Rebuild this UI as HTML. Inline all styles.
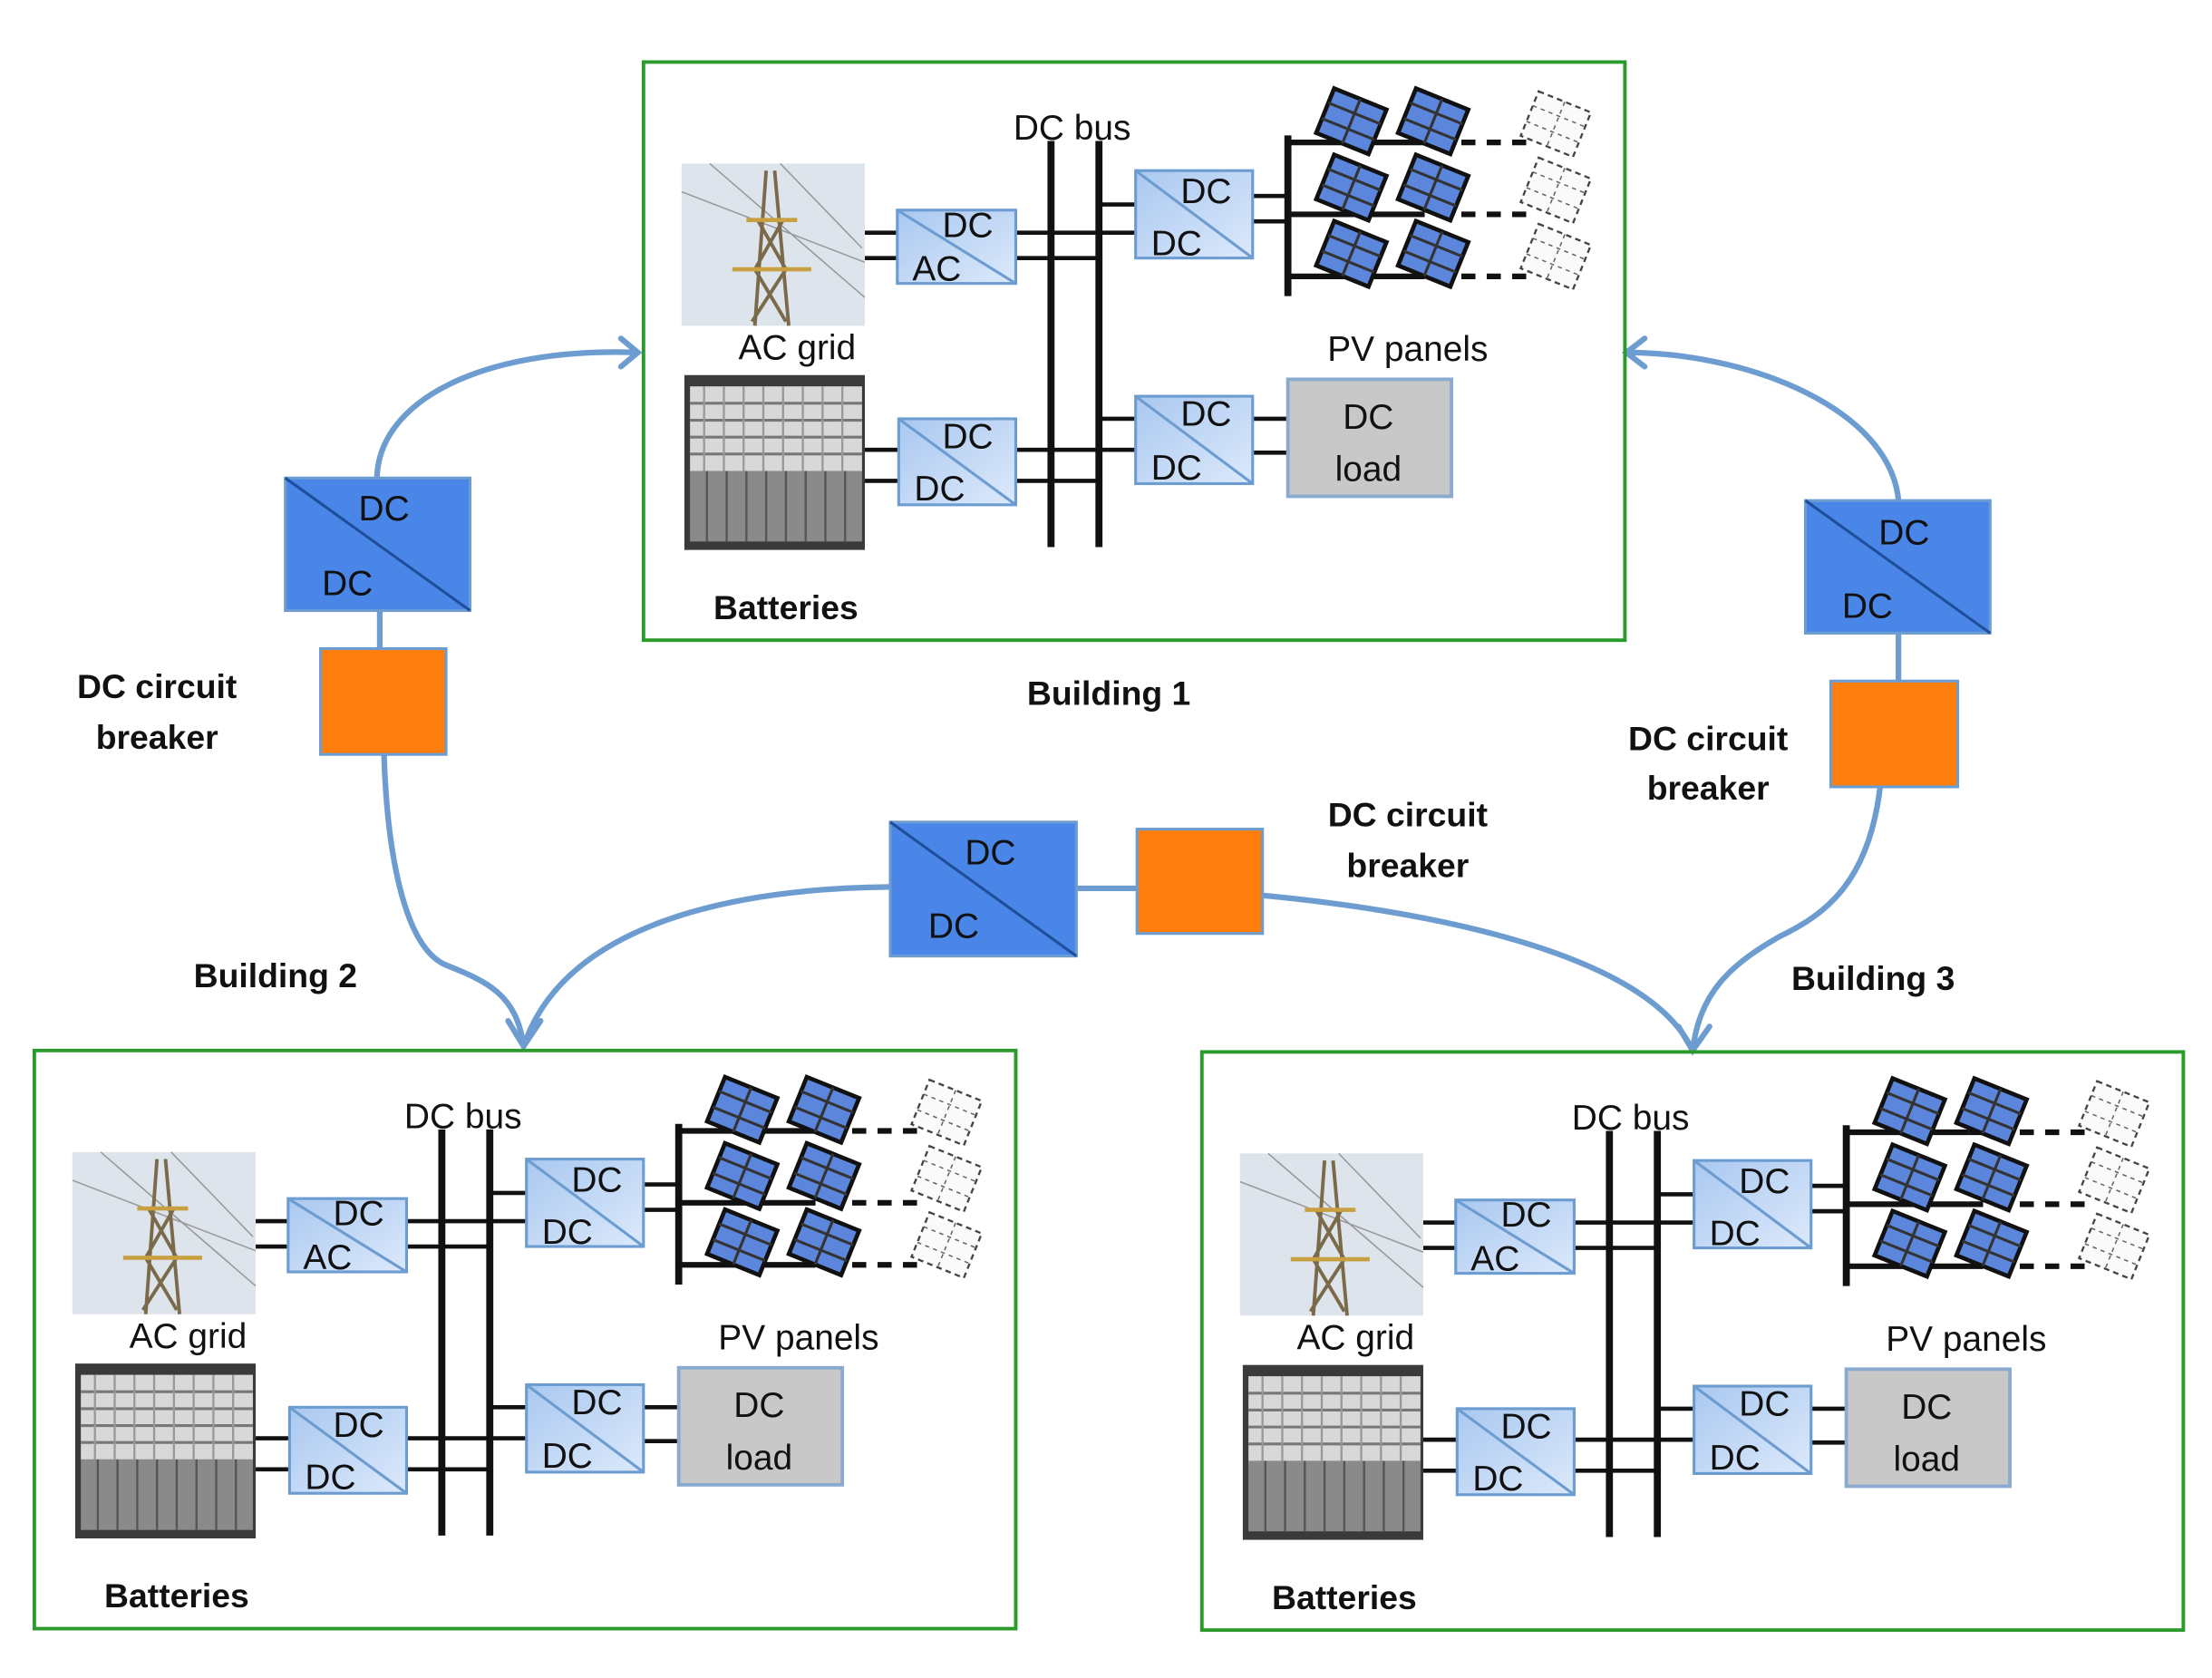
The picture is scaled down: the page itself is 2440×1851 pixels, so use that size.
<!DOCTYPE html>
<html><head><meta charset="utf-8"><style>
html,body{margin:0;padding:0;background:#fff;}
svg{display:block;}
text{font-family:"Liberation Sans",sans-serif;}
</style></head><body>
<svg width="2440" height="1851" viewBox="0 0 1568 1190" xmlns="http://www.w3.org/2000/svg">
<defs>
<linearGradient id="cv" x1="0" y1="0" x2="1" y2="1"><stop offset="0" stop-color="#a9c8f0"/><stop offset="1" stop-color="#dce9fb"/></linearGradient>
<g id="pv"><g transform="rotate(22)"><rect x="-20" y="-17" width="40" height="34" fill="#5b86dc" stroke="#111" stroke-width="3"/><path d="M0 -17V17M-20 -6H20M-20 6H20" stroke="#333" stroke-width="2"/></g></g>
<g id="gh"><g transform="rotate(22)"><rect x="-20" y="-17" width="40" height="34" fill="#fafafa" stroke="#444" stroke-width="1.5" stroke-dasharray="4 3"/><path d="M0 -17V17M-20 -6H20M-20 6H20" stroke="#666" stroke-width="1" stroke-dasharray="3 3"/></g></g>
<g id="tower"><rect x="0" y="0" width="130" height="115" fill="#dde4ec"/><path d="M0 20L130 70M20 0L130 95M70 0L128 60" stroke="#999" stroke-width="1"/><path d="M60 5L52 115M66 5L76 115M48 40H80M40 75H90M54 40L74 75M72 40L52 75M52 75L74 112M74 75L50 112" stroke="#7a6a4a" stroke-width="2.5" fill="none"/><path d="M46 40h36M36 75h56" stroke="#c9a040" stroke-width="3"/></g>
<g id="batt"><rect x="0" y="0" width="128" height="124" fill="#3a3a3a"/><rect x="4" y="8" width="122" height="60" fill="#d8d8d8"/><path d="M4 20H126M4 32H126M4 44H126M4 56H126" stroke="#777" stroke-width="2"/><path d="M14 8V68M28 8V68M42 8V68M56 8V68M70 8V68M84 8V68M98 8V68M112 8V68" stroke="#999" stroke-width="1.5"/><rect x="4" y="68" width="122" height="50" fill="#8a8a8a"/><path d="M16 68V118M30 68V118M44 68V118M58 68V118M72 68V118M86 68V118M100 68V118M114 68V118" stroke="#555" stroke-width="1.5"/></g>
</defs>

<!-- connectors -->
<g fill="none" stroke="#6c9cd0" stroke-width="4" stroke-linecap="round">
<path d="M267 339C268 285 340 246 452 250"/>
<path d="M440 240L452 250L440 260"/>
<path d="M269 433V460"/>
<path d="M1346 449V483"/>
<path d="M272 535C274 600 285 670 315 684C345 696 366 705 371 742"/>
<path d="M360 724L371 742L383 724"/>
<path d="M631 629C520 630 400 655 371 742"/>
<path d="M1346 355C1340 290 1240 250 1153 250"/>
<path d="M1166 240L1153 250L1166 260"/>
<path d="M1333 558C1325 625 1295 648 1262 664C1225 685 1205 705 1200 745"/>
<path d="M1190 728L1200 745L1212 728"/>
<path d="M763 630H806"/>
<path d="M895 635C1030 648 1170 680 1200 745"/>
</g>

<!-- outer converters & breakers -->
<g stroke="#6c9cd0" stroke-width="2">
<rect x="202" y="339" width="131" height="94" fill="#4a86e8"/>
<rect x="1280" y="355" width="131" height="94" fill="#4a86e8"/>
<rect x="631" y="583" width="132" height="95" fill="#4a86e8"/>
<rect x="227" y="460" width="89" height="75" fill="#ff7f0e"/>
<rect x="1298" y="483" width="90" height="75" fill="#ff7f0e"/>
<rect x="806" y="588" width="89" height="74" fill="#ff7f0e"/>
</g>
<g stroke="#1f4f9a" stroke-width="2"><path d="M202 339L333 433M1280 355L1411 449M631 583L763 678"/></g>
<g font-size="25" fill="#111" text-anchor="middle">
<text x="272" y="369">DC</text><text x="246" y="422">DC</text>
<text x="1350" y="386">DC</text><text x="1324" y="438">DC</text>
<text x="702" y="613">DC</text><text x="676" y="665">DC</text>
</g>
<g font-size="24" font-weight="bold" fill="#111" text-anchor="middle">
<text x="111" y="495">DC circuit</text><text x="111" y="531">breaker</text>
<text x="1211" y="532">DC circuit</text><text x="1211" y="567">breaker</text>
<text x="998" y="586">DC circuit</text><text x="998" y="622">breaker</text>
<text x="786" y="500">Building 1</text>
<text x="195" y="700">Building 2</text>
<text x="1328" y="702">Building 3</text>
</g>

<!-- building 1 -->
<g>
<rect x="456" y="44" width="696" height="410" fill="none" stroke="#2a9a2a" stroke-width="2.5"/>
<use href="#tower" x="483" y="116"/><use href="#batt" x="485" y="266"/>
<g stroke="#111" stroke-width="3" fill="none">
<path d="M613 165H636M613 183H636M720 165H805M720 183H779M779 145H805M613 319H637M613 341H637M720 319H805M720 341H779M779 297H805M888 139H913M888 157H913M888 297H913M888 321H913"/>
<path d="M745 100V388M779 100V388M913 96V210" stroke-width="5"/>
<path d="M913 101H1000M913 152H1000M913 196H1000" stroke-width="4"/>
<path d="M1000 101H1090M1000 152H1090M1000 196H1090" stroke-width="4" stroke-dasharray="10 8"/>
</g>
<use href="#pv" x="958" y="86"/><use href="#pv" x="1016" y="86"/><use href="#gh" x="1103" y="88"/>
<use href="#pv" x="958" y="133"/><use href="#pv" x="1016" y="133"/><use href="#gh" x="1103" y="135"/>
<use href="#pv" x="958" y="180"/><use href="#pv" x="1016" y="180"/><use href="#gh" x="1103" y="182"/>
<g stroke="#6c9cd0" stroke-width="2" fill="url(#cv)">
<rect x="636" y="149" width="84" height="52"/><rect x="637" y="297" width="83" height="61"/>
<rect x="805" y="121" width="83" height="62"/><rect x="805" y="281" width="83" height="62"/>
<path d="M636 149L720 201M637 297L720 358M805 121L888 183M805 281L888 343" fill="none"/>
</g>
<rect x="913" y="269" width="116" height="83" fill="#c8c8c8" stroke="#8aaad0" stroke-width="2.5"/>
<g font-size="25" fill="#111" text-anchor="middle">
<text x="686" y="168">DC</text><text x="664" y="199">AC</text>
<text x="686" y="318">DC</text><text x="666" y="355">DC</text>
<text x="855" y="144">DC</text><text x="834" y="181">DC</text>
<text x="855" y="302">DC</text><text x="834" y="340">DC</text>
<text x="970" y="304">DC</text><text x="970" y="341">load</text>
<text x="760" y="99">DC bus</text><text x="565" y="255">AC grid</text>
<text x="998" y="256">PV panels</text>
</g>
<text x="557" y="439" font-size="24" font-weight="bold" text-anchor="middle" fill="#111">Batteries</text>
</g>

<!-- building 2 -->
<g transform="translate(-432 701)">
<rect x="456" y="44" width="696" height="410" fill="none" stroke="#2a9a2a" stroke-width="2.5"/>
<use href="#tower" x="483" y="116"/><use href="#batt" x="485" y="266"/>
<g stroke="#111" stroke-width="3" fill="none">
<path d="M613 165H636M613 183H636M720 165H805M720 183H779M779 145H805M613 319H637M613 341H637M720 319H805M720 341H779M779 297H805M888 139H913M888 157H913M888 297H913M888 321H913"/>
<path d="M745 100V388M779 100V388M913 96V210" stroke-width="5"/>
<path d="M913 101H1000M913 152H1000M913 196H1000" stroke-width="4"/>
<path d="M1000 101H1090M1000 152H1090M1000 196H1090" stroke-width="4" stroke-dasharray="10 8"/>
</g>
<use href="#pv" x="958" y="86"/><use href="#pv" x="1016" y="86"/><use href="#gh" x="1103" y="88"/>
<use href="#pv" x="958" y="133"/><use href="#pv" x="1016" y="133"/><use href="#gh" x="1103" y="135"/>
<use href="#pv" x="958" y="180"/><use href="#pv" x="1016" y="180"/><use href="#gh" x="1103" y="182"/>
<g stroke="#6c9cd0" stroke-width="2" fill="url(#cv)">
<rect x="636" y="149" width="84" height="52"/><rect x="637" y="297" width="83" height="61"/>
<rect x="805" y="121" width="83" height="62"/><rect x="805" y="281" width="83" height="62"/>
<path d="M636 149L720 201M637 297L720 358M805 121L888 183M805 281L888 343" fill="none"/>
</g>
<rect x="913" y="269" width="116" height="83" fill="#c8c8c8" stroke="#8aaad0" stroke-width="2.5"/>
<g font-size="25" fill="#111" text-anchor="middle">
<text x="686" y="168">DC</text><text x="664" y="199">AC</text>
<text x="686" y="318">DC</text><text x="666" y="355">DC</text>
<text x="855" y="144">DC</text><text x="834" y="181">DC</text>
<text x="855" y="302">DC</text><text x="834" y="340">DC</text>
<text x="970" y="304">DC</text><text x="970" y="341">load</text>
<text x="760" y="99">DC bus</text><text x="565" y="255">AC grid</text>
<text x="998" y="256">PV panels</text>
</g>
<text x="557" y="439" font-size="24" font-weight="bold" text-anchor="middle" fill="#111">Batteries</text>
</g>

<!-- building 3 -->
<g transform="translate(396 702)">
<rect x="456" y="44" width="696" height="410" fill="none" stroke="#2a9a2a" stroke-width="2.5"/>
<use href="#tower" x="483" y="116"/><use href="#batt" x="485" y="266"/>
<g stroke="#111" stroke-width="3" fill="none">
<path d="M613 165H636M613 183H636M720 165H805M720 183H779M779 145H805M613 319H637M613 341H637M720 319H805M720 341H779M779 297H805M888 139H913M888 157H913M888 297H913M888 321H913"/>
<path d="M745 100V388M779 100V388M913 96V210" stroke-width="5"/>
<path d="M913 101H1000M913 152H1000M913 196H1000" stroke-width="4"/>
<path d="M1000 101H1090M1000 152H1090M1000 196H1090" stroke-width="4" stroke-dasharray="10 8"/>
</g>
<use href="#pv" x="958" y="86"/><use href="#pv" x="1016" y="86"/><use href="#gh" x="1103" y="88"/>
<use href="#pv" x="958" y="133"/><use href="#pv" x="1016" y="133"/><use href="#gh" x="1103" y="135"/>
<use href="#pv" x="958" y="180"/><use href="#pv" x="1016" y="180"/><use href="#gh" x="1103" y="182"/>
<g stroke="#6c9cd0" stroke-width="2" fill="url(#cv)">
<rect x="636" y="149" width="84" height="52"/><rect x="637" y="297" width="83" height="61"/>
<rect x="805" y="121" width="83" height="62"/><rect x="805" y="281" width="83" height="62"/>
<path d="M636 149L720 201M637 297L720 358M805 121L888 183M805 281L888 343" fill="none"/>
</g>
<rect x="913" y="269" width="116" height="83" fill="#c8c8c8" stroke="#8aaad0" stroke-width="2.5"/>
<g font-size="25" fill="#111" text-anchor="middle">
<text x="686" y="168">DC</text><text x="664" y="199">AC</text>
<text x="686" y="318">DC</text><text x="666" y="355">DC</text>
<text x="855" y="144">DC</text><text x="834" y="181">DC</text>
<text x="855" y="302">DC</text><text x="834" y="340">DC</text>
<text x="970" y="304">DC</text><text x="970" y="341">load</text>
<text x="760" y="99">DC bus</text><text x="565" y="255">AC grid</text>
<text x="998" y="256">PV panels</text>
</g>
<text x="557" y="439" font-size="24" font-weight="bold" text-anchor="middle" fill="#111">Batteries</text>
</g>
</svg>
</body></html>
